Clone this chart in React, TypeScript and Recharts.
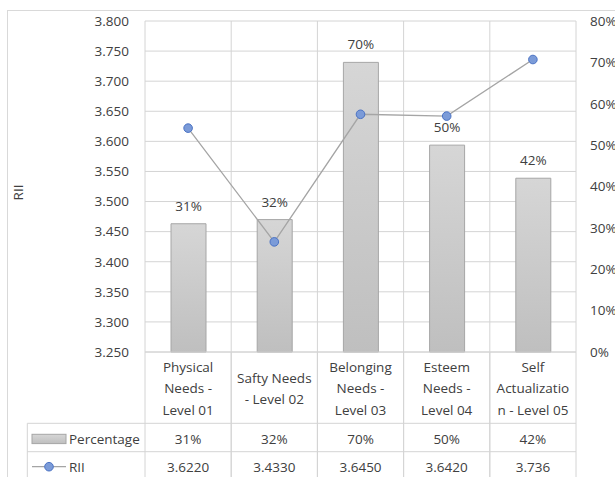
import React from "react";
import {
  ComposedChart,
  Bar,
  Line,
  XAxis,
  YAxis,
  CartesianGrid,
  LabelList,
} from "recharts";

// categories, split the way the data table wraps them
const CATEGORY_LINES: string[][] = [
  ["Physical", "Needs -", "Level 01"],
  ["Safty Needs", "- Level 02"],
  ["Belonging", "Needs -", "Level 03"],
  ["Esteem", "Needs -", "Level 04"],
  ["Self", "Actualizatio", "n - Level 05"],
];
const PERCENTAGE = [0.31, 0.32, 0.7, 0.5, 0.42];
const RII = [3.622, 3.433, 3.645, 3.642, 3.736];
const RII_TEXT = ["3.6220", "3.4330", "3.6450", "3.6420", "3.736"];

const RII_TICKS = [3.25, 3.3, 3.35, 3.4, 3.45, 3.5, 3.55, 3.6, 3.65, 3.7, 3.75, 3.8];
const PCT_TICKS = [0, 0.1, 0.2, 0.3, 0.4, 0.5, 0.6, 0.7, 0.8];

const data = CATEGORY_LINES.map((lines, i) => ({
  name: lines.join(" "),
  pct: PERCENTAGE[i],
  rii: RII[i],
}));

const FONT = "'Open Sans', 'Liberation Sans', sans-serif";
const FS = 13.5;
const TXT = "#404040";
const GRID = "#D4D4D4";
const LINE_C = "#A5A5A5";
const DOT_FILL = "#7B9BD8";
const DOT_STROKE = "#4A72C4";

const pctLabel = (v: number) => `${Math.round(v * 100)}%`;

// data table under the plot, drawn per category tick
function TableTick(props: any) {
  const { x, y, payload, index } = props;
  const half = payload?.offset ?? 43.1;
  const i = index ?? 0;
  const lines = CATEGORY_LINES[i] ?? [];
  const y0 = y;
  const y1 = y0 + 71.3;
  const y2 = y1 + 28.4;
  const yEnd = 480;
  const midLabel = (y0 + y1) / 2 + 0.7;
  const lh = 21.7;
  const left = x - half;
  const right = x + half;
  const tStyle = { fill: TXT, fontSize: FS, fontFamily: FONT };
  return (
    <g>
      <line x1={left} x2={left} y1={y0} y2={yEnd} stroke={GRID} />
      <line x1={right} x2={right} y1={y0} y2={yEnd} stroke={GRID} />
      <line x1={left} x2={right} y1={y1} y2={y1} stroke={GRID} />
      <line x1={left} x2={right} y1={y2} y2={y2} stroke={GRID} />
      {lines.map((ln, k) => (
        <text
          key={k}
          x={x}
          y={midLabel + (k - (lines.length - 1) / 2) * lh}
          textAnchor="middle"
          dominantBaseline="central"
          style={tStyle}
        >
          {ln}
        </text>
      ))}
      <text x={x} y={(y1 + y2) / 2 + 1} textAnchor="middle" dominantBaseline="central" style={tStyle}>
        {pctLabel(PERCENTAGE[i])}
      </text>
      <text x={x} y={y2 + 15} textAnchor="middle" dominantBaseline="central" style={tStyle}>
        {RII_TEXT[i]}
      </text>
      {i === 0 && (
        <g>
          <line x1={27.3} x2={27.3} y1={y1} y2={yEnd} stroke={GRID} />
          <line x1={27.3} x2={left} y1={y1} y2={y1} stroke={GRID} />
          <line x1={27.3} x2={left} y1={y2} y2={y2} stroke={GRID} />
          <rect x={32} y={y1 + 11} width={34} height={9.3} fill="url(#barGrad)" stroke="#A6A6A6" />
          <text x={69} y={(y1 + y2) / 2 + 1} dominantBaseline="central" style={tStyle}>
            Percentage
          </text>
          <line x1={32} x2={66} y1={y2 + 15} y2={y2 + 15} stroke={LINE_C} strokeWidth={1.3} />
          <circle cx={49} cy={y2 + 15} r={4.3} fill={DOT_FILL} stroke={DOT_STROKE} />
          <text x={69} y={y2 + 15} dominantBaseline="central" style={tStyle}>
            RII
          </text>
        </g>
      )}
    </g>
  );
}

export default function App() {
  return (
    <div style={{ position: "relative", width: 615, height: 477, overflow: "hidden", background: "#fff" }}>
      <style>{`body { margin: 0; }`}</style>
      <svg width={0} height={0} style={{ position: "absolute" }}>
        <defs>
          <linearGradient id="barGrad" x1="0" y1="0" x2="0" y2="1">
            <stop offset="0%" stopColor="#D6D6D6" />
            <stop offset="100%" stopColor="#BFBFBF" />
          </linearGradient>
        </defs>
      </svg>
      <div
        style={{
          position: "absolute",
          left: 7,
          top: 10,
          width: 700,
          height: 600,
          border: "1px solid #D9D9D9",
        }}
      />
      <div style={{ position: "absolute", left: 0, top: 0 }}>
        <ComposedChart
          width={615}
          height={477}
          data={data}
          margin={{ top: 21, right: 0, bottom: 0, left: 0 }}
          style={{ fontFamily: FONT }}
        >
          <CartesianGrid
            yAxisId="rii"
            stroke={GRID}
            verticalCoordinatesGenerator={({ offset }: any) =>
              [0, 1, 2, 3, 4, 5].map((k) => offset.left + (k * offset.width) / 5)
            }
          />
          <XAxis
            dataKey="name"
            height={125}
            interval={0}
            tickSize={0}
            tickMargin={0}
            tickLine={false}
            axisLine={{ stroke: GRID }}
            tick={<TableTick />}
          />
          <YAxis
            yAxisId="rii"
            width={145}
            domain={[3.25, 3.8]}
            ticks={RII_TICKS}
            allowDataOverflow
            axisLine={false}
            tickLine={false}
            tickSize={0}
            tickMargin={16}
            tickFormatter={(v: number) => v.toFixed(3)}
            tick={{ fill: TXT, fontSize: FS, fontFamily: FONT }}
            label={(p: any) => {
              const vb = p.viewBox ?? { y: 21, height: 331 };
              const cy = vb.y + vb.height / 2 + 6;
              return (
                <text
                  x={18}
                  y={cy}
                  transform={`rotate(-90 18 ${cy})`}
                  textAnchor="middle"
                  dominantBaseline="central"
                  style={{ fill: TXT, fontSize: FS, fontFamily: FONT }}
                >
                  RII
                </text>
              );
            }}
          />
          <YAxis
            yAxisId="pct"
            orientation="right"
            width={39}
            domain={[0, 0.8]}
            ticks={PCT_TICKS}
            axisLine={false}
            tickLine={false}
            tickSize={0}
            tickMargin={14}
            tickFormatter={pctLabel}
            tick={{ fill: TXT, fontSize: FS, fontFamily: FONT, textAnchor: "start" }}
          />
          <Bar
            yAxisId="pct"
            dataKey="pct"
            barSize={35}
            fill="url(#barGrad)"
            stroke="#A6A6A6"
            strokeWidth={1}
            isAnimationActive={false}
          >
            <LabelList
              dataKey="pct"
              position="top"
              offset={13}
              formatter={pctLabel}
              style={{ fill: TXT, fontSize: FS, fontFamily: FONT }}
            />
          </Bar>
          <Line
            yAxisId="rii"
            dataKey="rii"
            type="linear"
            stroke={LINE_C}
            strokeWidth={1.3}
            dot={{ r: 4.3, fill: DOT_FILL, stroke: DOT_STROKE, strokeWidth: 1 }}
            activeDot={false}
            isAnimationActive={false}
          />
        </ComposedChart>
      </div>
    </div>
  );
}
